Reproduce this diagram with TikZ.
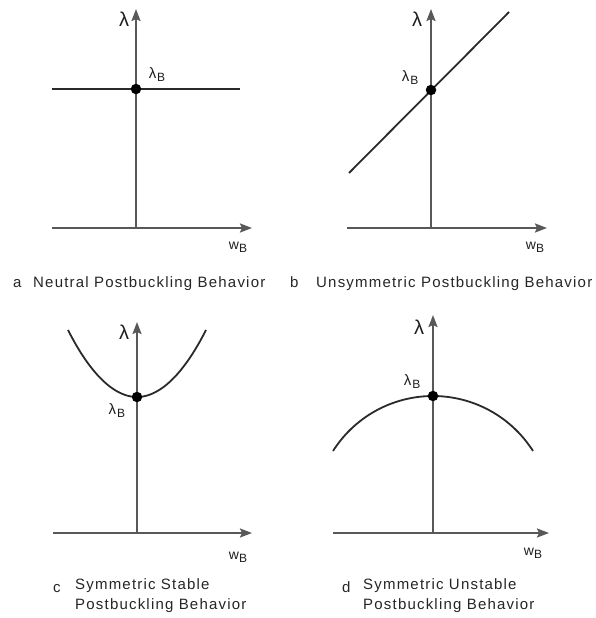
\documentclass[tikz,border=0pt]{standalone}
\usepackage{fontspec}
\setmainfont{Liberation Sans}
\newfontfamily\capfont{Liberation Sans}[LetterSpace=8]
\usetikzlibrary{arrows.meta}
\definecolor{axisgray}{HTML}{585858}
\definecolor{curvedark}{HTML}{2A2A2A}
\newcommand{\lamsym}{{\fontsize{20}{20}\selectfont λ}}
\newcommand{\lamB}{{\fontsize{15}{15}\selectfont λ}\kern1pt\raisebox{-3pt}{\fontsize{12}{12}\selectfont B}}
\newcommand{\wB}{{\fontsize{14}{14}\selectfont w}\raisebox{-3pt}{\fontsize{12}{12}\selectfont B}}
\begin{document}
\begin{tikzpicture}[x=1pt,y=-1pt,
  axisline/.style={draw=axisgray,line width=2pt,-{Stealth[length=12pt,width=9pt,inset=2pt]}},
  plainaxis/.style={draw=axisgray,line width=2pt},
  curve/.style={draw=curvedark,line width=1.8pt},
  bdot/.style={circle,fill=black,inner sep=0pt,minimum size=10.5pt},
  lbl/.style={inner sep=0pt,text=black!88},
  captext/.style={inner sep=0pt,anchor=base west,text=black!85,font=\capfont\fontsize{15}{20}\selectfont},
  capml/.style={captext,anchor=north west,align=left}]
\fill[white] (0,0) rectangle (596,618);

% ---------- panel a ----------
\coordinate (aO) at (136,228);
\coordinate (aT) at (136,9);
\coordinate (aL) at (52,228);
\coordinate (aR) at (252,228);
\coordinate (aC1) at (52,89);
\coordinate (aC2) at (240,89);
\draw[plainaxis] (aO) -- (aL);
\draw[axisline] (aO) -- (aT);
\draw[axisline] (aL) -- (aR);
\draw[curve] (aC1) -- (aC2);
\node[bdot] (aD) at (136,89) {};
\node[lbl] (aLam) at (124,19) {\lamsym};
\node[lbl] (aLB) at (157,75) {\lamB};
\node[lbl] (aW) at (238,247) {\wB};
\node[captext] (aK) at (13,287) {a};
\node[captext] (aCap) at (33,287) {Neutral Postbuckling Behavior};

% ---------- panel b ----------
\coordinate (bO) at (431,228);
\coordinate (bT) at (431,9);
\coordinate (bL) at (347,228);
\coordinate (bR) at (547,228);
\coordinate (bC1) at (349,173);
\coordinate (bC2) at (509,12);
\draw[plainaxis] (bO) -- (bL);
\draw[axisline] (bO) -- (bT);
\draw[axisline] (bL) -- (bR);
\draw[curve] (bC1) -- (bC2);
\node[bdot] (bD) at (431,90) {};
\node[lbl] (bLam) at (417,19) {\lamsym};
\node[lbl] (bLB) at (410,78) {\lamB};
\node[lbl] (bW) at (535,247) {\wB};
\node[captext] (bK) at (290,287) {b};
\node[captext] (bCap) at (316,287) {Unsymmetric Postbuckling Behavior};

% ---------- panel c ----------
\coordinate (cO) at (137,533);
\coordinate (cT) at (137,322);
\coordinate (cL) at (53,533);
\coordinate (cR) at (252,533);
\coordinate (cC1) at (68,330);
\coordinate (cV) at (137,397);
\coordinate (cC2) at (206,330);
\draw[plainaxis] (cO) -- (cL);
\draw[axisline] (cO) -- (cT);
\draw[axisline] (cL) -- (cR);
\draw[curve] (cC1) parabola bend (cV) (cC2);
\node[bdot] (cD) at (cV) {};
\node[lbl] (cLam) at (124,332) {\lamsym};
\node[lbl] (cLB) at (117,411) {\lamB};
\node[lbl] (cW) at (238,557) {\wB};
\node[captext] (cK) at (53,592) {c};
\node[capml] (cCap) at (75,578) {Symmetric Stable\\Postbuckling Behavior};

% ---------- panel d ----------
\coordinate (dO) at (433,533);
\coordinate (dT) at (433,315);
\coordinate (dL) at (333,533);
\coordinate (dR) at (549,533);
\coordinate (dV) at (433,396);
\draw[plainaxis] (dO) -- (dL);
\draw[axisline] (dO) -- (dT);
\draw[axisline] (dL) -- (dR);
\draw[curve] plot[domain=212.4:327.6,samples=60,smooth] ({433+118.4*cos(\x)},{514.4+118.4*sin(\x)});
\node[bdot] (dD) at (dV) {};
\node[lbl] (dLam) at (419,327) {\lamsym};
\node[lbl] (dLB) at (412,382) {\lamB};
\node[lbl] (dW) at (533,553) {\wB};
\node[captext] (dK) at (342,592) {d};
\node[capml] (dCap) at (363,578) {Symmetric Unstable\\Postbuckling Behavior};
\end{tikzpicture}
\end{document}
